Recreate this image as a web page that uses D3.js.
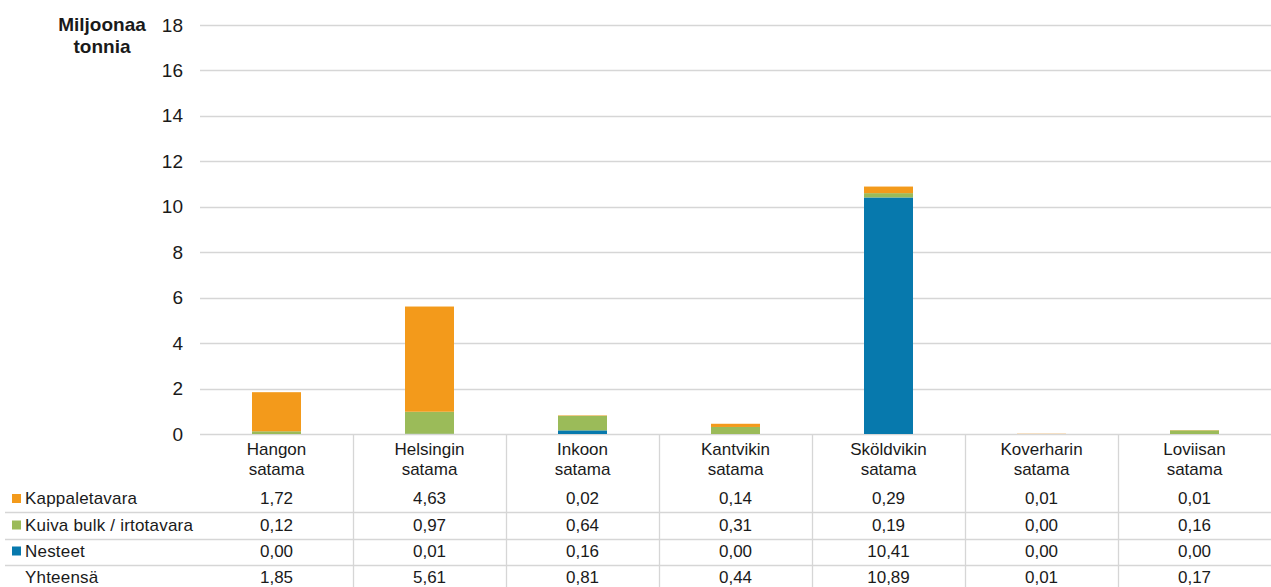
<!DOCTYPE html>
<html>
<head>
<meta charset="utf-8">
<script src="https://cdn.jsdelivr.net/npm/d3@7/dist/d3.min.js"></script>
<style>
  html, body { margin: 0; padding: 0; background: #fff; }
  svg { display: block; font-family: "Liberation Sans", Arial, sans-serif; }
</style>
</head>
<body>
<svg id="chart" width="1271" height="587"></svg>
<script>
// Ports (two-line labels) and cargo volumes, million tonnes
const ports = [
  ["Hangon", "satama"],
  ["Helsingin", "satama"],
  ["Inkoon", "satama"],
  ["Kantvikin", "satama"],
  ["Sköldvikin", "satama"],
  ["Koverharin", "satama"],
  ["Loviisan", "satama"]
];
const kappaletavara = [1.72, 4.63, 0.02, 0.14, 0.29, 0.01, 0.01];
const kuivaBulk     = [0.12, 0.97, 0.64, 0.31, 0.19, 0.00, 0.16];
const nesteet       = [0.00, 0.01, 0.16, 0.00, 10.41, 0.00, 0.00];
const yhteensa      = [1.85, 5.61, 0.81, 0.44, 10.89, 0.01, 0.17];
const yTicks = [0, 2, 4, 6, 8, 10, 12, 14, 16, 18];

// Series listed bottom-to-top in the stack
const series = [
  { name: "Nesteet", values: nesteet, color: "#0779ad" },
  { name: "Kuiva bulk / irtotavara", values: kuivaBulk, color: "#9bbb59" },
  { name: "Kappaletavara", values: kappaletavara, color: "#f39a1b" }
];
// Table rows, top to bottom
const tableRows = [
  { name: "Kappaletavara", values: kappaletavara, color: "#f39a1b" },
  { name: "Kuiva bulk / irtotavara", values: kuivaBulk, color: "#9bbb59" },
  { name: "Nesteet", values: nesteet, color: "#0779ad" },
  { name: "Yhteensä", values: yhteensa, color: null }
];

const svg = d3.select("#chart");
const plotLeft = 200, plotRight = 1271, plotTop = 25, plotBottom = 434;
const fmt = v => v.toFixed(2).replace(".", ",");
const textColor = "#1a1a1a";
const gridColor = "#d6d6d6";

const x = d3.scaleBand().domain(d3.range(ports.length)).range([plotLeft, plotRight]).paddingInner(0).paddingOuter(0);
const y = d3.scaleLinear().domain([0, 18]).range([plotBottom, plotTop]);

// Horizontal gridlines
svg.append("g").selectAll("line").data(yTicks).join("line")
  .attr("x1", plotLeft).attr("x2", plotRight)
  .attr("y1", d => Math.round(y(d)) + 0.5).attr("y2", d => Math.round(y(d)) + 0.5)
  .attr("stroke", gridColor).attr("stroke-width", 1.3);

// Y axis labels
const yAxis = svg.append("g").attr("transform", `translate(${plotLeft},0)`)
  .call(d3.axisLeft(y).tickValues(yTicks).tickSize(0).tickPadding(17).tickFormat(d3.format("d")));
yAxis.select(".domain").remove();
yAxis.selectAll("text").attr("font-size", 19).attr("fill", textColor)
  .attr("font-family", "Liberation Sans, Arial, sans-serif");

// Axis title
const yt = svg.append("text").attr("text-anchor", "middle").attr("font-weight", "bold")
  .attr("font-size", 19).attr("fill", textColor);
yt.append("tspan").attr("x", 102).attr("y", 31).text("Miljoonaa");
yt.append("tspan").attr("x", 102).attr("y", 53).text("tonnia");

// Stacked bars
const stackData = ports.map((p, i) => {
  const o = { i };
  series.forEach(s => { o[s.name] = s.values[i]; });
  return o;
});
const stacked = d3.stack().keys(series.map(s => s.name))(stackData);
const barW = 49;
svg.append("g").selectAll("g").data(stacked).join("g")
  .attr("fill", (d, k) => series[k].color)
  .selectAll("rect").data(d => d).join("rect")
  .attr("x", d => x(d.data.i) + x.bandwidth() / 2 - barW / 2)
  .attr("width", barW)
  .attr("y", d => y(d[1]))
  .attr("height", d => Math.max(0, y(d[0]) - y(d[1])));

// Data table: vertical separators between port columns
svg.append("g").selectAll("line").data(d3.range(1, ports.length)).join("line")
  .attr("x1", d => x(d) + 0.5).attr("x2", d => x(d) + 0.5)
  .attr("y1", plotBottom).attr("y2", 587)
  .attr("stroke", gridColor).attr("stroke-width", 1.3);

// Horizontal separators between table rows
const rowBase = [504, 530.5, 556.5, 583];
const sepY = [512, 539, 565];
svg.append("g").selectAll("line").data(sepY).join("line")
  .attr("x1", 5).attr("x2", plotRight)
  .attr("y1", d => d + 0.5).attr("y2", d => d + 0.5)
  .attr("stroke", gridColor).attr("stroke-width", 1.3);

// Column headers (port names)
const hdr = svg.append("g").selectAll("text").data(ports).join("text")
  .attr("text-anchor", "middle").attr("font-size", 17).attr("fill", textColor);
hdr.append("tspan").attr("x", (d, i) => x(i) + x.bandwidth() / 2).attr("y", 455).text(d => d[0]);
hdr.append("tspan").attr("x", (d, i) => x(i) + x.bandwidth() / 2).attr("y", 475).text(d => d[1]);

// Row legends and values
tableRows.forEach((r, k) => {
  const base = rowBase[k];
  if (r.color) {
    svg.append("rect").attr("x", 12).attr("y", base - 10).attr("width", 9).attr("height", 9).attr("fill", r.color);
  }
  svg.append("text").attr("x", 25).attr("y", base).attr("font-size", 17)
    .attr("letter-spacing", 0.2).attr("fill", textColor).text(r.name);
  svg.append("g").selectAll("text").data(r.values).join("text")
    .attr("x", (d, i) => x(i) + x.bandwidth() / 2).attr("y", base)
    .attr("text-anchor", "middle").attr("font-size", 17).attr("fill", textColor)
    .text(d => fmt(d));
});
</script>
</body>
</html>
